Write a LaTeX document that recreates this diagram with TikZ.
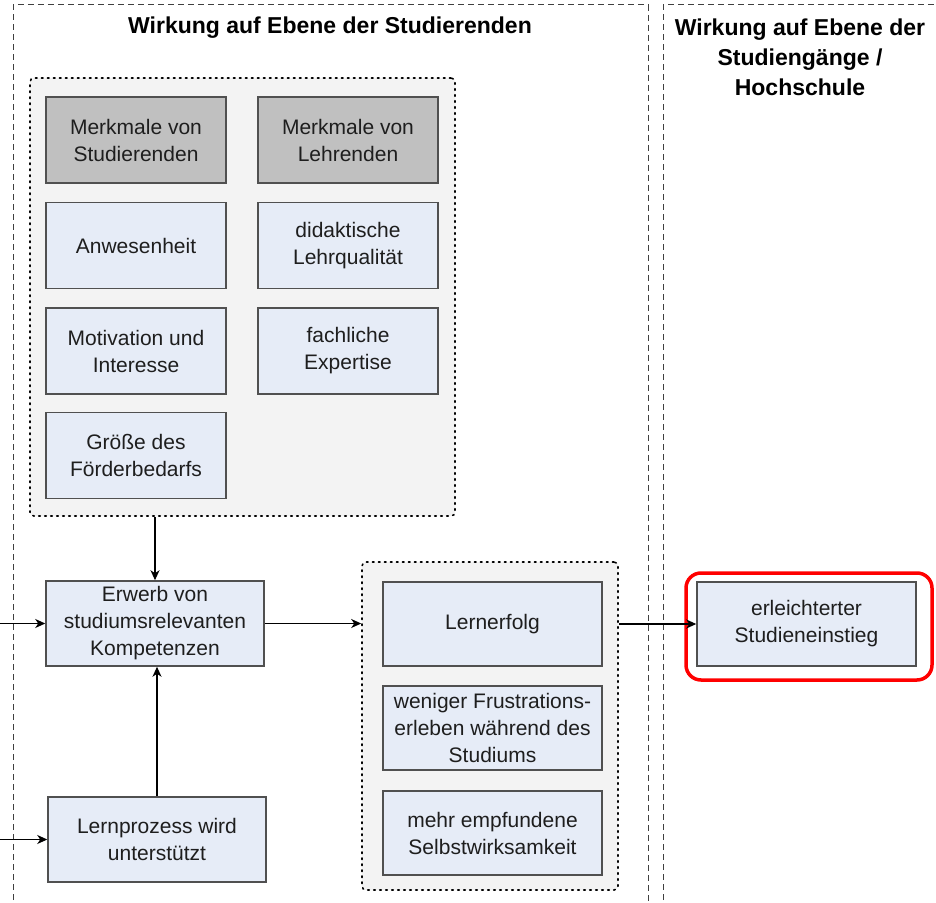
\documentclass[tikz,border=0pt]{standalone}
\usepackage{fontspec}
\setmainfont{Liberation Sans}
\usetikzlibrary{arrows.meta}
\definecolor{boxblue}{RGB}{230,236,247}
\definecolor{boxgray}{RGB}{192,192,192}
\definecolor{contfill}{RGB}{243,243,243}
\definecolor{edgegray}{RGB}{80,80,80}
\definecolor{txt}{RGB}{30,30,30}
\tikzset{
  bx/.style={draw=edgegray, line width=0.75pt, fill=boxblue, align=center, text=txt,
     minimum width=90pt, minimum height=43pt, inner sep=0pt,
     font=\fontsize{10.5}{13.5}\selectfont},
  gbx/.style={bx, fill=boxgray},
  cont/.style={draw=black, fill=contfill, line width=0.8pt, dash pattern=on 0.8pt off 2.2pt, line cap=round, rounded corners=2pt, inner sep=0pt},
  panel/.style={draw=black!75, line width=0.5pt, dash pattern=on 3pt off 2pt},
  ttl/.style={align=center, font=\fontsize{11.5}{15}\selectfont\bfseries, text=black},
  conn/.style={draw=black, line width=0.6pt, -{Stealth[length=5pt,width=4.5pt,inset=1.5pt]}},
  plain/.style={draw=black, line width=0.6pt}
}
\begin{document}
\begin{tikzpicture}[x=0.5pt,y=-0.5pt]
\useasboundingbox (0,0) rectangle (936,903);
% panels
\draw[panel] (13,910) -- (13,5) -- (648,5) -- (648,910);
\draw[panel] (663,910) -- (663,5) -- (945,5);
\node[ttl] (t1) at (330,28) {Wirkung auf Ebene der Studierenden};
\node[ttl] (t2) at (800,57) {Wirkung auf Ebene der\\Studiengänge /\\Hochschule};
% containers
\node[cont, minimum width=212.5pt, minimum height=219pt] (c1) at (242.5,297) {};
\node[cont, minimum width=128pt, minimum height=164pt] (c2) at (490,726) {};
% boxes in container 1
\node[gbx] (ms) at (136,140) {Merkmale von\\Studierenden};
\node[gbx] (ml) at (348,140) {Merkmale von\\Lehrenden};
\node[bx] (an) at (136,245.5) {Anwesenheit};
\node[bx] (dl) at (348,245.5) {didaktische\\Lehrqualität};
\node[bx] (mi) at (136,351) {Motivation und\\Interesse};
\node[bx] (fe) at (348,351) {fachliche\\Expertise};
\node[bx] (gf) at (136,455.5) {Größe des\\Förderbedarfs};
% middle column
\node[bx, minimum width=109pt, minimum height=42.5pt] (ew) at (155,623.5) {Erwerb von\\studiumsrelevanten\\Kompetenzen};
\node[bx, minimum width=109pt, minimum height=42.5pt] (lp) at (157,839.5) {Lernprozess wird\\unterstützt};
% container 2 boxes
\node[bx, minimum width=109.5pt, minimum height=42pt] (le) at (492.5,624) {Lernerfolg};
\node[bx, minimum width=109.5pt, minimum height=42pt] (wf) at (492.5,728) {weniger Frustrations-\\erleben während des\\Studiums};
\node[bx, minimum width=109.5pt, minimum height=42pt] (me) at (492.5,833) {mehr empfundene\\Selbstwirksamkeit};
% right
\node[draw=red, line width=1.75pt, rounded corners=7.5pt, minimum width=123pt, minimum height=53.5pt, inner sep=0pt] (rd) at (809,626.5) {};
\node[bx, minimum width=109.5pt, minimum height=42pt] (es) at (806.5,624) {erleichterter\\Studieneinstieg};
% connectors
\coordinate (in1) at (0,623.5);
\coordinate (in2) at (0,839.5);
\draw[conn] (in1) -- (ew.west);
\draw[conn] (in2) -- (lp.west);
\draw[conn] (ew.north |- c1.south) -- (ew.north);
\draw[conn] (lp.north) -- (lp.north |- ew.south);
\draw[conn] (ew.east) -- (ew.east -| c2.west);
\draw[conn] (c2.east |- es.west) -- (es.west);
\end{tikzpicture}
\end{document}
